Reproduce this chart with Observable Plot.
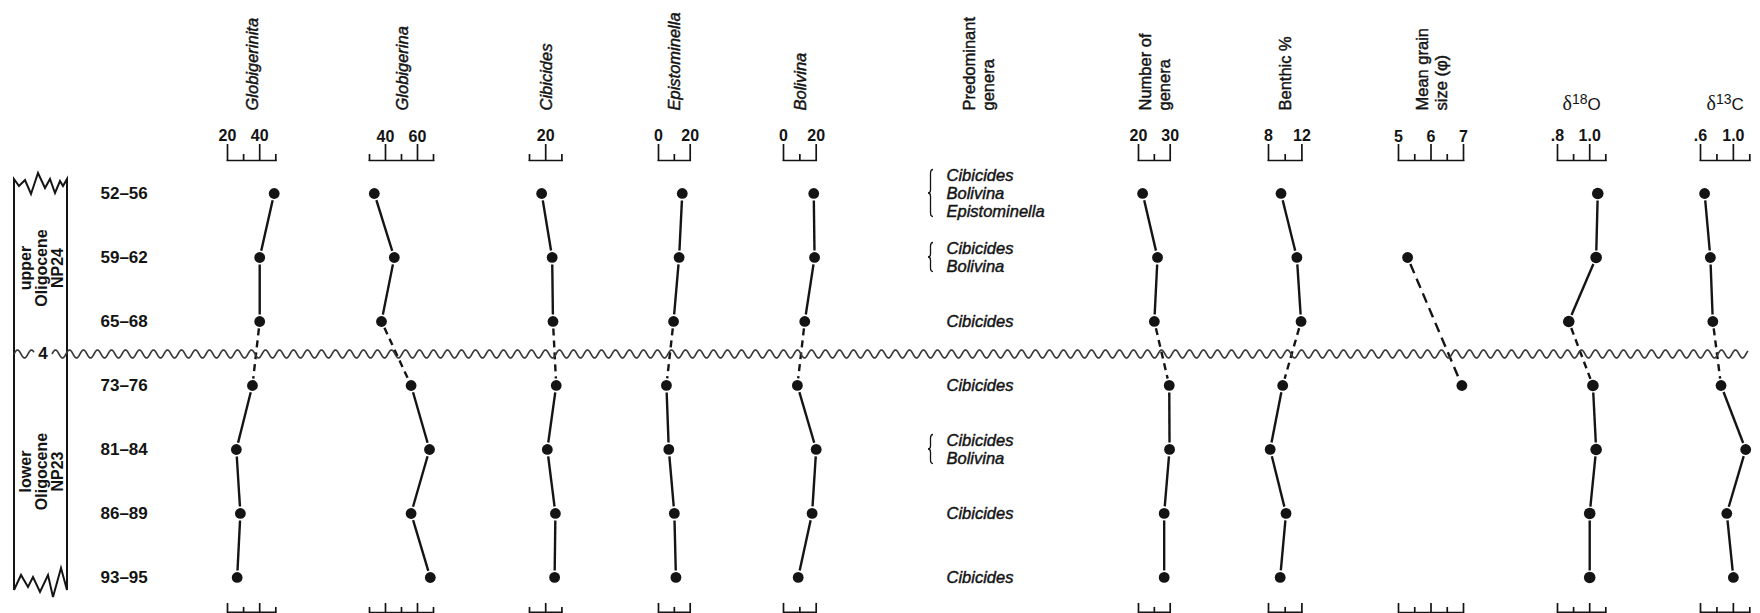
<!DOCTYPE html>
<html>
<head>
<meta charset="utf-8">
<script src="https://cdn.jsdelivr.net/npm/d3@7"></script>
<script src="https://cdn.jsdelivr.net/npm/@observablehq/plot@0.6"></script>
<style>
  html, body { margin: 0; padding: 0; background: #fff; }
  #chart { position: relative; width: 1760px; height: 613px; overflow: hidden; background: #fff;
           font-family: "Liberation Sans", Arial, Helvetica, sans-serif; color: #111; }
  #chart svg { position: absolute; top: 0; overflow: visible; }
</style>
</head>
<body>
<div id="chart"></div>
<script>
// ---------------- DATA ----------------
const samples = ["52–56", "59–62", "65–68", "73–76", "81–84", "86–89", "93–95"];
const unconformityLabel = "4";
const unconformityBetween = ["65–68", "73–76"];
const upperZone = ["upper", "Oligocene", "NP24"];
const lowerZone = ["lower", "Oligocene", "NP23"];

const globigerinita  = [49, 40, 40, 35.5, 25.5, 28, 26];
const globigerina    = [33, 45.5, 37.5, 56, 67.5, 56, 68];
const cibicides      = [17.5, 24, 24.5, 26.5, 21, 26, 25.5];
const epistominella  = [15, 13, 9.5, 5, 6.5, 10, 11];
const bolivina       = [18.5, 19, 13, 8.5, 20, 17.5, 9];
const numberOfGenera = [21.3, 26, 25, 29.7, 29.8, 28.1, 28.1];
const benthicPercent = [9.5, 11.4, 11.9, 9.7, 8.2, 10.1, 9.4];
const meanGrainSize  = [null, 5.28, null, 6.95, null, null, null];
const delta18O       = [1.05, 1.04, 0.87, 1.02, 1.04, 1.0, 1.0];
const delta13C       = [0.65, 0.72, 0.75, 0.85, 1.15, 0.92, 1.0];

const predominantGenera = [
  ["Cibicides", "Bolivina", "Epistominella"],
  ["Cibicides", "Bolivina"],
  ["Cibicides"],
  ["Cibicides"],
  ["Cibicides", "Bolivina"],
  ["Cibicides"],
  ["Cibicides"]
];

const titles = ["Globigerinita", "Globigerina", "Cibicides", "Epistominella", "Bolivina",
                "Number of\ngenera", "Benthic %", "Mean grain\nsize (φ)", "δ18O", "δ13C"];
const predominantTitle = "Predominant\ngenera";

const majorTicks = [[20, 40], [40, 60], [20], [0, 20], [0, 20], [20, 30], [8, 12], [5, 6, 7], [0.8, 1.0], [0.6, 1.0]];
const minorTicks = [[30, 50], [30, 50, 70], [10, 30], [10], [10], [25], [10], [5.5, 6.5], [0.9, 1.1], [0.8, 1.2]];
const seriesValues = [globigerinita, globigerina, cibicides, epistominella, bolivina,
                      numberOfGenera, benthicPercent, meanGrainSize, delta18O, delta13C];

// ---------------- LAYOUT (positions / styles only) ----------------
const H = 613;
const axisTop = 160, axisBottom = 612;
const rowRange = [192, 577];
const columnPixels = [[226.7, 275], [369.3, 433.3], [529.3, 561.7], [658.3, 690], [783.3, 816],
                      [1138.3, 1170], [1268.3, 1301.7], [1397.7, 1462.7], [1556.7, 1605], [1700, 1749.3]];
const italicTitle = [true, true, true, true, true, false, false, false, false, false];
const isDelta = [false, false, false, false, false, false, false, false, true, true];
const FONT = '"Liberation Sans", Arial, Helvetica, sans-serif';
const INK = "#141414";
const baseStyle = {fontFamily: FONT, fontSize: "16px", background: "transparent", overflow: "visible", color: INK};
const yOpts = {type: "point", domain: samples, range: rowRange, padding: 0, axis: null, label: null};
const heavy = {stroke: INK, strokeWidth: 0.45, paintOrder: "fill"};

const chart = document.getElementById("chart");
function place(svg, left) {
  svg.style.position = "absolute";
  svg.style.left = left + "px";
  svg.style.top = "0px";
  chart.appendChild(svg);
  return svg;
}
const uIdx = samples.indexOf(unconformityBetween[0]);
const fmt = v => (v < 1 && v > 0) ? String(v).replace(/^0/, "") : (Number.isInteger(v) && v < 2 ? v.toFixed(1) : String(v));

let yScale = null;

// ---------------- NUMERIC COLUMNS ----------------
seriesValues.forEach((values, ci) => {
  const [L, R] = columnPixels[ci];
  const pad = 30;
  const domain = d3.extent([...majorTicks[ci], ...minorTicks[ci]]);
  const rows = samples.map((s, i) => ({sample: s, i, value: values[i]})).filter(d => d.value != null);
  const segs = d3.pairs(rows).map(([a, b]) => ({
    x1: a.value, y1: a.sample, x2: b.value, y2: b.sample,
    dashed: a.i <= uIdx && b.i > uIdx
  }));
  const tf = ci >= 8 ? fmt : (d => String(d));
  const grain = ci === 7;
  const titleMark = isDelta[ci]
    ? Plot.text([titles[ci]], {text: d => d, frameAnchor: "top", dy: -50, textAnchor: "middle",
                               lineAnchor: "bottom", fontSize: 16, fill: INK})
    : Plot.text([titles[ci]], {text: d => d, frameAnchor: "top", dy: -50, rotate: -90, textAnchor: "start",
                               lineAnchor: "middle", lineHeight: 1.15, fontSize: 16.5,
                               fontStyle: italicTitle[ci] ? "italic" : "normal", fill: INK, ...heavy});
  const plot = Plot.plot({
    width: R - L + 2 * pad, height: H,
    marginTop: axisTop, marginBottom: H - axisBottom, marginLeft: pad, marginRight: pad,
    x: {domain, label: null},
    y: yOpts,
    style: baseStyle,
    marks: [
      Plot.frame({anchor: "top", stroke: INK, strokeWidth: 1.7}),
      Plot.frame({anchor: "bottom", stroke: INK, strokeWidth: 1.7}),
      Plot.axisX({anchor: "top", ticks: majorTicks[ci], tickSize: 17, tickPadding: 2, tickFormat: tf,
                  label: null, fontSize: 16, fontWeight: "bold", stroke: INK, fill: INK, strokeWidth: 1.7}),
      Plot.axisX({anchor: "top", ticks: minorTicks[ci], tickSize: 7, tickFormat: () => "",
                  label: null, stroke: INK, strokeWidth: 1.7}),
      Plot.axisX({anchor: "bottom", ticks: majorTicks[ci], tickSize: 9, dy: -9, tickFormat: () => "",
                  label: null, stroke: INK, strokeWidth: 1.7}),
      Plot.axisX({anchor: "bottom", ticks: minorTicks[ci], tickSize: 5, dy: -5, tickFormat: () => "",
                  label: null, stroke: INK, strokeWidth: 1.7}),
      Plot.arrow(segs.filter(d => !d.dashed), {x1: "x1", y1: "y1", x2: "x2", y2: "y2", headLength: 0,
                  inset: 7, stroke: INK, strokeWidth: 2.4, strokeLinecap: "butt"}),
      Plot.arrow(segs.filter(d => d.dashed), {x1: "x1", y1: "y1", x2: "x2", y2: "y2", headLength: 0,
                  inset: 7, stroke: INK, strokeWidth: 2.4, strokeLinecap: "butt",
                  strokeDasharray: grain ? "10,6" : "7,5"}),
      Plot.dot(rows, {x: "value", y: "sample", r: isDelta[ci] && ci === 8 ? 5.8 : 5.4, fill: INK, stroke: "none"}),
      titleMark
    ]
  });
  place(plot, L - pad);
  if (!yScale) yScale = plot.scale("y");
  if (isDelta[ci]) {
    const t = titles[ci];
    const sel = d3.select(plot).selectAll("text").filter(function () { return this.textContent === t; });
    sel.text(null);
    sel.append("tspan").attr("font-family", '"Liberation Serif", "DejaVu Serif", serif').attr("font-size", 20).text(t[0]);
    sel.append("tspan").attr("font-size", 14).attr("dy", -7).text(t.slice(1, 3));
    sel.append("tspan").attr("font-size", 17).attr("dy", 7).text(t.slice(3));
  }
});

// ---------------- SAMPLE LABELS + STRATIGRAPHIC COLUMN ----------------
const leftPlot = Plot.plot({
  width: 170, height: H, marginLeft: 100, marginRight: 10, marginTop: axisTop, marginBottom: H - axisBottom,
  y: yOpts,
  style: baseStyle,
  marks: [
    Plot.text(samples, {text: d => d, y: d => d, frameAnchor: "left", textAnchor: "start",
                        fontWeight: "bold", fontSize: 17, fill: INK})
  ]
});
place(leftPlot, 0);
const y = v => yScale.apply(v);
const boxTop = y(samples[0]) - 14, boxBottom = y(samples[samples.length - 1]) + 13;
const xL = 14, xR = 67;
const uy = (y(unconformityBetween[0]) + y(unconformityBetween[1])) / 2;
const ls = d3.select(leftPlot);
const topZig = [[0, 0], [5, 7], [11, 1], [17, 15], [24, -6], [31, 9], [36, 0], [41, 14], [46, 2], [49, 7], [53, 0]];
const botZig = [[0, 0], [7, -15], [14, -3], [19, -13], [26, 2], [34, -15], [39, 7], [47, -22], [53, 0]];
ls.append("path")
  .attr("d", `M${xL},${boxBottom}L${xL},${boxTop}` + topZig.map(([dx, dy]) => `L${xL + dx},${boxTop + dy}`).join("")
        + `L${xR},${boxBottom}` + botZig.slice().reverse().map(([dx, dy]) => `L${xL + dx},${boxBottom + dy}`).join(""))
  .attr("fill", "none").attr("stroke", INK).attr("stroke-width", 2).attr("stroke-linejoin", "miter");
function zoneLabel(lines, yc) {
  const g = ls.append("g").attr("transform", `translate(0,${yc}) rotate(-90)`);
  const t = g.append("text").attr("text-anchor", "middle").attr("font-weight", "bold")
    .attr("font-size", 16).attr("fill", INK).attr("font-family", FONT);
  const base = [31, 47, 62.5];
  lines.forEach((s, i) => t.append("tspan").attr("x", 0).attr("y", base[i]).text(s));
}
zoneLabel(upperZone, (boxTop + uy) / 2 + 2);
zoneLabel(lowerZone, (uy + boxBottom) / 2);
ls.append("text").attr("x", 43).attr("y", uy + 6).attr("text-anchor", "middle").attr("font-weight", "bold")
  .attr("font-size", 17).attr("fill", INK).attr("font-family", FONT).text(unconformityLabel);

// ---------------- PREDOMINANT GENERA ----------------
const predRows = samples.map((s, i) => ({sample: s, genera: predominantGenera[i]}));
const predPlot = Plot.plot({
  width: 150, height: H, marginLeft: 26, marginRight: 0, marginTop: axisTop, marginBottom: H - axisBottom,
  y: yOpts,
  style: baseStyle,
  marks: [
    Plot.text(predRows, {text: d => d.genera.join("\n"), y: "sample", frameAnchor: "left", textAnchor: "start",
                         lineAnchor: "middle", lineHeight: 1.1, fontStyle: "italic", fontSize: 16.5, fill: INK, ...heavy}),
    Plot.text([predominantTitle], {text: d => d, frameAnchor: "top-left", dx: 32, dy: -50, rotate: -90,
                         textAnchor: "start", lineAnchor: "middle", lineHeight: 1.15, fontSize: 16.5, fill: INK, ...heavy})
  ]
});
place(predPlot, 920);
const ps = d3.select(predPlot);
predRows.filter(d => d.genera.length > 1).forEach(d => {
  const yc = y(d.sample);
  const h = (d.genera.length - 1) * 18 + 11;
  const y0 = yc - h / 2, y1 = yc + h / 2, x = 9;
  ps.append("path")
    .attr("d", `M${x + 4},${y0}Q${x + 1.5},${y0} ${x + 1.5},${y0 + 4}L${x + 1.5},${yc - 3}Q${x + 1.5},${yc} ${x - 1},${yc}`
      + `Q${x + 1.5},${yc} ${x + 1.5},${yc + 3}L${x + 1.5},${y1 - 4}Q${x + 1.5},${y1} ${x + 4},${y1}`)
    .attr("fill", "none").attr("stroke", INK).attr("stroke-width", 1.3);
});

// ---------------- UNCONFORMITY (wavy line) ----------------
const overlay = d3.select(chart).append("svg")
  .attr("width", 1760).attr("height", H)
  .style("position", "absolute").style("left", "0px").style("top", "0px").style("pointer-events", "none");
function wave(x0, x1, yc, amp, lambda) {
  const pts = d3.range(x0, x1 + 0.5, 1).map(x => [x, yc - amp * Math.sin(2 * Math.PI * (x - x0) / lambda)]);
  return d3.line()(pts);
}
overlay.append("path").attr("d", wave(xL, 34, uy + 1, 4, 14) + wave(52, 1748, uy + 1, 4, 14))
  .attr("fill", "none").attr("stroke", "#3a3a3a").attr("stroke-width", 1.6);
</script>
</body>
</html>
